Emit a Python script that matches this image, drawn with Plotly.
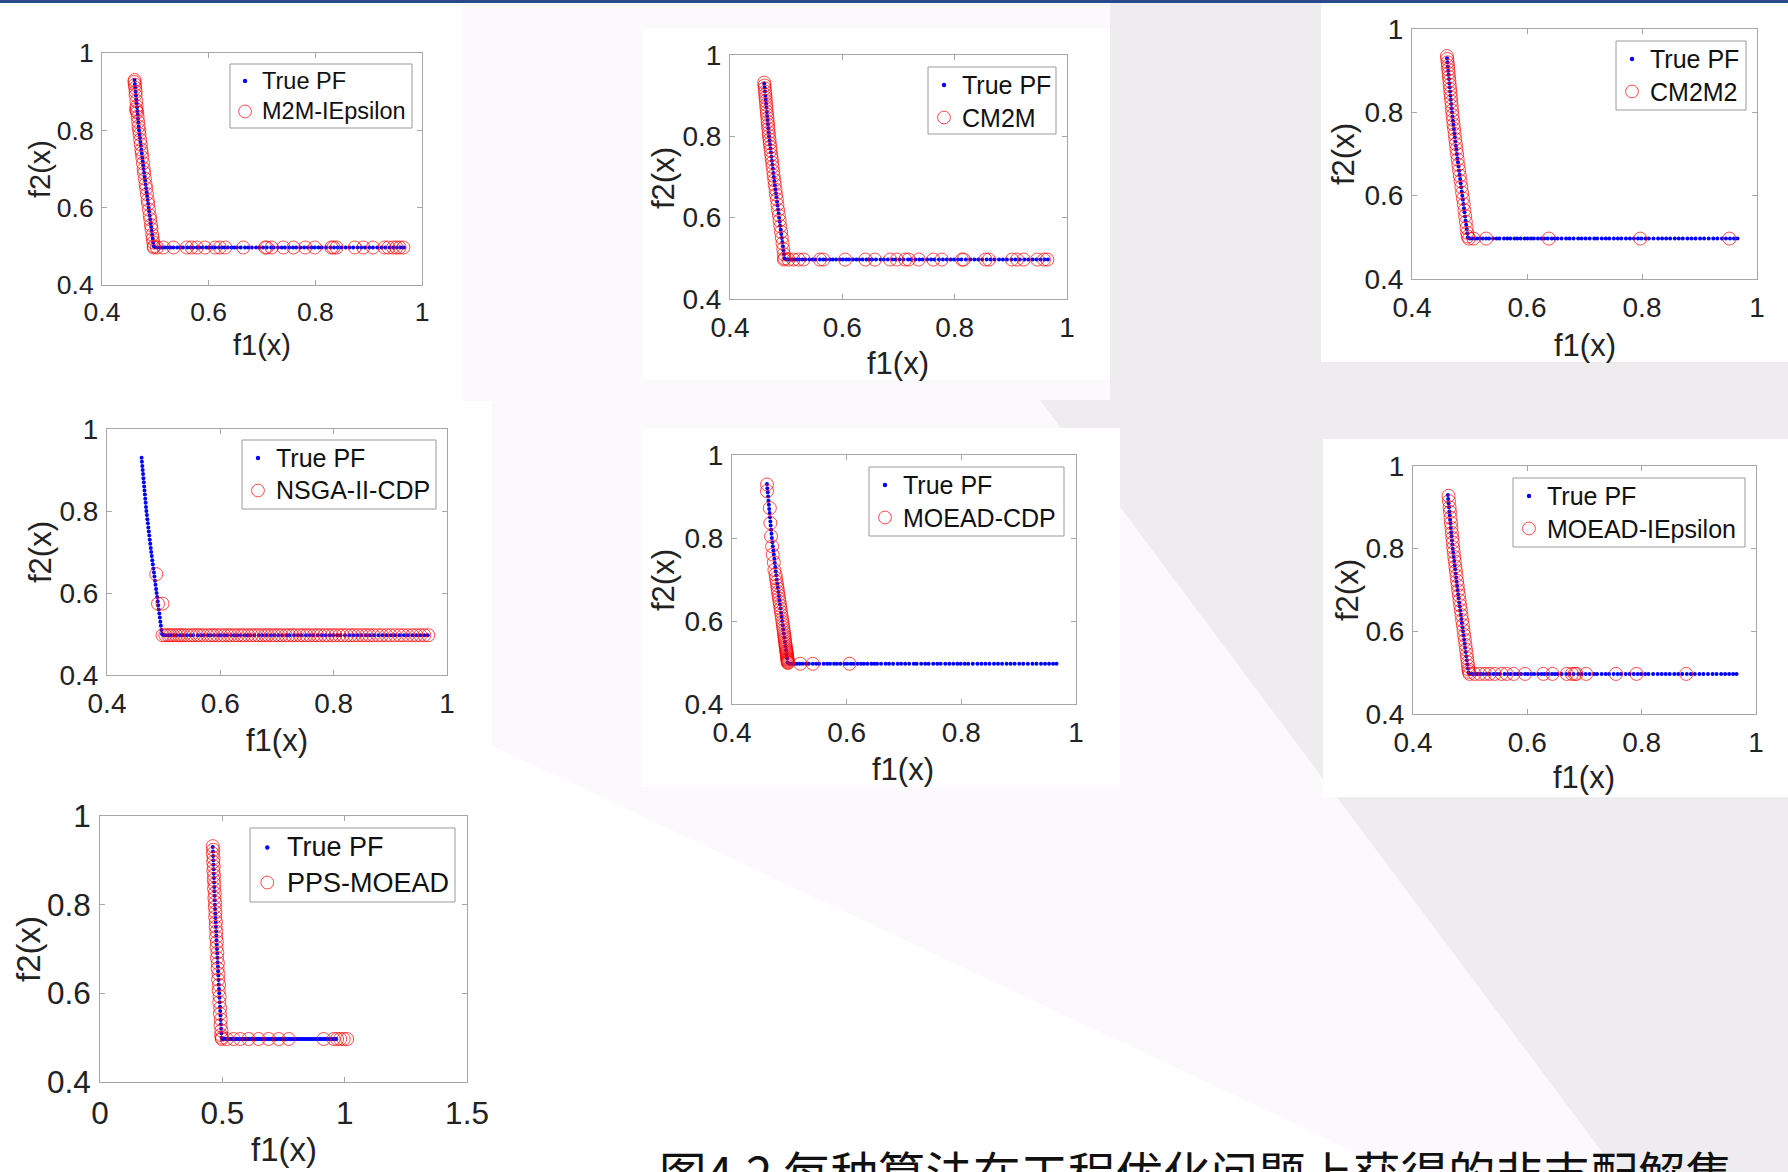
import plotly.graph_objects as go

W, H = 1788, 1172
FONT = "Liberation Sans, Arial, sans-serif"


def px_x(p):
    return p / W


def px_y(p):
    return 1 - p / H


# ---------------- data ----------------
# True Pareto front: steep part + flat part (f2 ~ 0.497)
PF_STEEP_F1 = [0.4610, 0.4616, 0.4623, 0.4630, 0.4636, 0.4643, 0.4649, 0.4656, 0.4662, 0.4669,
               0.4675, 0.4682, 0.4688, 0.4695, 0.4704, 0.4712, 0.4721, 0.4729, 0.4738, 0.4746,
               0.4755, 0.4763, 0.4772, 0.4780, 0.4790, 0.4799, 0.4809, 0.4818, 0.4828, 0.4837,
               0.4847, 0.4856, 0.4866, 0.4875, 0.4885, 0.4894, 0.4904, 0.4913, 0.4923, 0.4932,
               0.4942, 0.4951, 0.4961, 0.4970]
PF_STEEP_F2 = [0.93, 0.92, 0.91, 0.90, 0.89, 0.88, 0.87, 0.86, 0.85, 0.84,
               0.83, 0.82, 0.81, 0.80, 0.79, 0.78, 0.77, 0.76, 0.75, 0.74,
               0.73, 0.72, 0.71, 0.70, 0.69, 0.68, 0.67, 0.66, 0.65, 0.64,
               0.63, 0.62, 0.61, 0.60, 0.59, 0.58, 0.57, 0.56, 0.55, 0.54,
               0.53, 0.52, 0.51, 0.50]
PF_FLAT_F1 = [0.500, 0.504, 0.509, 0.513, 0.518, 0.523, 0.529, 0.534, 0.541, 0.547, 0.552, 0.560,
              0.566, 0.571, 0.578, 0.583, 0.589, 0.596, 0.601, 0.607, 0.612, 0.619, 0.625, 0.630,
              0.636, 0.643, 0.648, 0.653, 0.660, 0.668, 0.674, 0.681, 0.689, 0.695, 0.702, 0.709,
              0.717, 0.722, 0.730, 0.737, 0.743, 0.751, 0.758, 0.764, 0.772, 0.779, 0.786, 0.793,
              0.799, 0.806, 0.812, 0.820, 0.828, 0.835, 0.842, 0.849, 0.857, 0.864, 0.871, 0.879,
              0.886, 0.893, 0.901, 0.908, 0.916, 0.924, 0.931, 0.939, 0.946, 0.953, 0.960, 0.966]
FLAT_F2 = 0.497

PF_NAME = "True PF"
ALGORITHMS = ["M2M-IEpsilon", "CM2M", "CM2M2", "NSGA-II-CDP",
              "MOEAD-CDP", "MOEAD-IEpsilon", "PPS-MOEAD"]

# M2M-IEpsilon
M2M_STEEP_F1 = [0.4612, 0.4608, 0.4618, 0.4622, 0.4631, 0.4629, 0.4645, 0.4650, 0.4641, 0.4648,
                0.4660, 0.4668, 0.4679, 0.4686, 0.4697, 0.4703, 0.4716, 0.4726, 0.4738, 0.4745,
                0.4756, 0.4768, 0.4781, 0.4790, 0.4804, 0.4818, 0.4829, 0.4842, 0.4856, 0.4866,
                0.4880, 0.4894, 0.4905, 0.4918, 0.4928, 0.4943, 0.4952, 0.4962, 0.4972]
M2M_STEEP_F2 = [0.930, 0.925, 0.918, 0.910, 0.900, 0.891, 0.876, 0.862, 0.855, 0.850,
                0.846, 0.835, 0.822, 0.810, 0.800, 0.790, 0.776, 0.764, 0.750, 0.741,
                0.730, 0.715, 0.700, 0.690, 0.675, 0.660, 0.650, 0.635, 0.620, 0.610,
                0.595, 0.580, 0.570, 0.555, 0.545, 0.530, 0.520, 0.510, 0.500]
M2M_FLAT_F1 = [0.497, 0.503, 0.515, 0.534, 0.559, 0.568, 0.578, 0.593, 0.612, 0.621, 0.631,
               0.665, 0.706, 0.709, 0.718, 0.740, 0.759, 0.781, 0.799, 0.830, 0.834, 0.840,
               0.874, 0.890, 0.908, 0.930, 0.937, 0.946, 0.952, 0.958, 0.965]

# CM2M
CM2M_STEEP_F1 = [0.4609, 0.4614, 0.4617, 0.4625, 0.4628, 0.4634, 0.4637, 0.4645, 0.4648, 0.4656,
                 0.4659, 0.4667, 0.4671, 0.4679, 0.4682, 0.4690, 0.4693, 0.4704, 0.4708, 0.4718,
                 0.4722, 0.4734, 0.4742, 0.4752, 0.4758, 0.4770, 0.4776, 0.4790, 0.4797, 0.4811,
                 0.4820, 0.4834, 0.4844, 0.4857, 0.4870, 0.4884, 0.4896, 0.4909, 0.4922, 0.4936,
                 0.4949, 0.4960, 0.4970]
CM2M_STEEP_F2 = [0.932, 0.925, 0.918, 0.910, 0.902, 0.895, 0.887, 0.878, 0.870, 0.861,
                 0.853, 0.845, 0.836, 0.828, 0.819, 0.810, 0.801, 0.792, 0.783, 0.774,
                 0.765, 0.755, 0.745, 0.735, 0.725, 0.714, 0.703, 0.692, 0.681, 0.669,
                 0.657, 0.645, 0.632, 0.619, 0.606, 0.593, 0.579, 0.565, 0.551, 0.537,
                 0.523, 0.510, 0.500]
CM2M_FLAT_F1 = [0.496, 0.504, 0.513, 0.522, 0.531, 0.560, 0.566, 0.605, 0.641, 0.658, 0.685,
                0.697, 0.712, 0.718, 0.736, 0.762, 0.777, 0.813, 0.816, 0.855, 0.861, 0.902,
                0.911, 0.923, 0.947, 0.959, 0.965]

# CM2M2
CM2M2_STEEP_F1 = [0.4607, 0.4613, 0.4619, 0.4626, 0.4631, 0.4637, 0.4643, 0.4650, 0.4656, 0.4663,
                  0.4669, 0.4676, 0.4683, 0.4690, 0.4697, 0.4705, 0.4714, 0.4723, 0.4732, 0.4742,
                  0.4752, 0.4763, 0.4773, 0.4784, 0.4795, 0.4807, 0.4819, 0.4832, 0.4845, 0.4858,
                  0.4872, 0.4886, 0.4900, 0.4912, 0.4925, 0.4937, 0.4949, 0.4960, 0.4970]
CM2M2_STEEP_F2 = [0.935, 0.928, 0.920, 0.912, 0.903, 0.894, 0.885, 0.876, 0.866, 0.856,
                  0.846, 0.836, 0.826, 0.815, 0.804, 0.793, 0.782, 0.771, 0.760, 0.748,
                  0.736, 0.724, 0.712, 0.700, 0.687, 0.674, 0.661, 0.648, 0.635, 0.621,
                  0.607, 0.593, 0.579, 0.565, 0.551, 0.537, 0.523, 0.511, 0.502]
CM2M2_FLAT_F1 = [0.499, 0.507, 0.529, 0.638, 0.797, 0.952]

# NSGA-II-CDP
NSGA_STEEP_F1 = [0.487, 0.490, 0.498]
NSGA_STEEP_F2 = [0.646, 0.574, 0.574]
NSGA_FLAT_F1 = [0.498, 0.503, 0.508, 0.512, 0.517, 0.522, 0.527, 0.531, 0.536, 0.542, 0.548, 0.553,
                0.559, 0.564, 0.570, 0.577, 0.583, 0.588, 0.594, 0.601, 0.607, 0.613, 0.618, 0.625,
                0.631, 0.637, 0.642, 0.649, 0.655, 0.661, 0.667, 0.673, 0.679, 0.684, 0.690, 0.696,
                0.702, 0.708, 0.715, 0.721, 0.727, 0.733, 0.740, 0.746, 0.752, 0.758, 0.765, 0.771,
                0.777, 0.784, 0.790, 0.797, 0.803, 0.810, 0.816, 0.823, 0.830, 0.836, 0.843, 0.850,
                0.857, 0.863, 0.870, 0.878, 0.885, 0.893, 0.900, 0.908, 0.916, 0.923, 0.931, 0.939,
                0.946, 0.953, 0.960, 0.967]

# MOEAD-CDP
MOEADCDP_STEEP_F1 = [0.461, 0.461, 0.466, 0.467, 0.468, 0.470, 0.471, 0.473, 0.474,
                     0.4760, 0.4768, 0.4778, 0.4787, 0.4795, 0.4803, 0.4812, 0.4820, 0.4829, 0.4838,
                     0.4846, 0.4855, 0.4863, 0.4872, 0.4880, 0.4887, 0.4894, 0.4900, 0.4906, 0.4911,
                     0.4916, 0.4921, 0.4925, 0.4930, 0.4934, 0.4938, 0.4942, 0.4946, 0.4949, 0.4952,
                     0.4955, 0.4958, 0.4961, 0.4963, 0.4965, 0.4967, 0.4969, 0.4971, 0.4972, 0.4973,
                     0.4975]
MOEADCDP_STEEP_F2 = [0.929, 0.913, 0.872, 0.836, 0.804, 0.780, 0.760, 0.741, 0.723,
                     0.712, 0.703, 0.694, 0.686, 0.678, 0.670, 0.662, 0.654, 0.646, 0.638,
                     0.630, 0.622, 0.614, 0.606, 0.598, 0.591, 0.584, 0.578, 0.572, 0.566,
                     0.561, 0.556, 0.551, 0.546, 0.542, 0.538, 0.534, 0.530, 0.527, 0.524,
                     0.521, 0.518, 0.515, 0.512, 0.510, 0.508, 0.506, 0.504, 0.502, 0.500,
                     0.499]
MOEADCDP_FLAT_F1 = [0.519, 0.541, 0.605]

# MOEAD-IEpsilon
MOEADIE_STEEP_F1 = [0.4621, 0.4629, 0.4640, 0.4647, 0.4656, 0.4664, 0.4672, 0.4679, 0.4688, 0.4695,
                    0.4703, 0.4712, 0.4722, 0.4731, 0.4741, 0.4750, 0.4761, 0.4771, 0.4781, 0.4791,
                    0.4803, 0.4814, 0.4826, 0.4837, 0.4849, 0.4860, 0.4872, 0.4884, 0.4896, 0.4907,
                    0.4918, 0.4928, 0.4938, 0.4947, 0.4956, 0.4964, 0.4970, 0.4975]
MOEADIE_STEEP_F2 = [0.928, 0.915, 0.900, 0.889, 0.875, 0.862, 0.850, 0.838, 0.826, 0.815,
                    0.803, 0.792, 0.780, 0.769, 0.757, 0.746, 0.734, 0.722, 0.711, 0.699,
                    0.687, 0.675, 0.663, 0.651, 0.639, 0.627, 0.615, 0.603, 0.591, 0.579,
                    0.567, 0.556, 0.545, 0.535, 0.525, 0.516, 0.508, 0.502]
MOEADIE_FLAT_F1 = [0.499, 0.508, 0.517, 0.526, 0.534, 0.543, 0.555, 0.564, 0.576, 0.596, 0.628,
                   0.644, 0.669, 0.678, 0.683, 0.686, 0.703, 0.755, 0.791, 0.878]

# PPS-MOEAD
PPS_STEEP_F1 = [0.4608, 0.4630, 0.4612, 0.4642, 0.4626, 0.4650, 0.4635, 0.4662, 0.4648, 0.4676,
                0.4660, 0.4690, 0.4676, 0.4702, 0.4692, 0.4720, 0.4708, 0.4738, 0.4726, 0.4756,
                0.4744, 0.4776, 0.4762, 0.4798, 0.4783, 0.4820, 0.4806, 0.4843, 0.4829, 0.4866,
                0.4852, 0.4890, 0.4876, 0.4914, 0.4900, 0.4938, 0.4925, 0.4962, 0.4950, 0.4975]
PPS_STEEP_F2 = [0.932, 0.924, 0.915, 0.905, 0.896, 0.886, 0.876, 0.866, 0.856, 0.846,
                0.836, 0.826, 0.815, 0.805, 0.794, 0.783, 0.772, 0.761, 0.750, 0.739,
                0.727, 0.716, 0.704, 0.692, 0.680, 0.668, 0.656, 0.644, 0.631, 0.619,
                0.606, 0.593, 0.580, 0.567, 0.554, 0.541, 0.528, 0.516, 0.506, 0.500]
PPS_FLAT_F1 = [0.498, 0.518, 0.546, 0.573, 0.607, 0.648, 0.689, 0.730, 0.771, 0.914, 0.955,
               0.969, 0.982, 0.996, 1.010]

ALG_DATA = [
    (M2M_STEEP_F1, M2M_STEEP_F2, M2M_FLAT_F1),
    (CM2M_STEEP_F1, CM2M_STEEP_F2, CM2M_FLAT_F1),
    (CM2M2_STEEP_F1, CM2M2_STEEP_F2, CM2M2_FLAT_F1),
    (NSGA_STEEP_F1, NSGA_STEEP_F2, NSGA_FLAT_F1),
    (MOEADCDP_STEEP_F1, MOEADCDP_STEEP_F2, MOEADCDP_FLAT_F1),
    (MOEADIE_STEEP_F1, MOEADIE_STEEP_F2, MOEADIE_FLAT_F1),
    (PPS_STEEP_F1, PPS_STEEP_F2, PPS_FLAT_F1),
]

X_TICKS_A = [0.4, 0.6, 0.8, 1.0]
X_TICKTEXT_A = ["0.4", "0.6", "0.8", "1"]
X_TICKS_B = [0, 0.5, 1.0, 1.5]
X_TICKTEXT_B = ["0", "0.5", "1", "1.5"]
Y_TICKS = [0.4, 0.6, 0.8, 1.0]
Y_TICKTEXT = ["0.4", "0.6", "0.8", "1"]

CAPTION = "图4.2 每种算法在工程优化问题上获得的非支配解集"

# ---------------- layout spec (pixel geometry) ----------------
# ax: axes box (l, r, t, b); pan: white panel; lb: legend box (l, r, t, b);
# xt / yt: axis-title centres; fs: tick, title, legend font sizes
PANELS = [
    dict(ax=(102, 422, 53, 285), pan=(0, 463, 3, 362), lb=(230, 412, 64, 128), xt=(262, 345), yt=(40, 169),
         fs=(26.5, 29, 23.5), xr=[0.4, 1.0], xt_v=X_TICKS_A, xt_t=X_TICKTEXT_A),
    dict(ax=(730, 1067, 55, 299), pan=(642, 1110, 28, 380), lb=(928, 1056, 67, 134), xt=(898, 364), yt=(663, 178),
         fs=(28, 31, 25), xr=[0.4, 1.0], xt_v=X_TICKS_A, xt_t=X_TICKTEXT_A),
    dict(ax=(1412, 1757, 29, 279), pan=(1321, 1788, 3, 362), lb=(1616, 1746, 41, 110), xt=(1585, 345), yt=(1343, 154),
         fs=(28, 31, 25), xr=[0.4, 1.0], xt_v=X_TICKS_A, xt_t=X_TICKTEXT_A),
    dict(ax=(107, 447, 429, 675), pan=(0, 492, 401, 764), lb=(242, 436, 440, 509), xt=(277, 740), yt=(40, 552),
         fs=(28, 31, 25), xr=[0.4, 1.0], xt_v=X_TICKS_A, xt_t=X_TICKTEXT_A),
    dict(ax=(732, 1076, 455, 704), pan=(641, 1120, 428, 787), lb=(869, 1064, 467, 536), xt=(903, 769), yt=(663, 580),
         fs=(28, 31, 25), xr=[0.4, 1.0], xt_v=X_TICKS_A, xt_t=X_TICKTEXT_A),
    dict(ax=(1413, 1756, 466, 714), pan=(1323, 1788, 439, 797), lb=(1513, 1745, 478, 547), xt=(1584, 777), yt=(1347, 590),
         fs=(28, 31, 25), xr=[0.4, 1.0], xt_v=X_TICKS_A, xt_t=X_TICKTEXT_A),
    dict(ax=(100, 467, 816, 1082), pan=(0, 500, 790, 1172), lb=(250, 455, 828, 902), xt=(284, 1149), yt=(28, 949),
         fs=(31.5, 33, 27), xr=[0.0, 1.5], xt_v=X_TICKS_B, xt_t=X_TICKTEXT_B),
]

AXIS_COLOR = "#a6a6a6"
TEXT_COLOR = "#222222"
PF_COLOR = "#0000ff"
ALG_COLOR = "rgba(255,0,0,0.7)"

fig = go.Figure()
layout = dict(
    width=W, height=H, autosize=False,
    margin=dict(l=0, r=0, t=0, b=0, pad=0, autoexpand=False),
    paper_bgcolor="white", plot_bgcolor="white",
    showlegend=False,
    shapes=[], annotations=[],
)


def poly(points):
    return "M " + " L ".join(f"{px_x(a):.5f},{px_y(b):.5f}" for a, b in points) + " Z"


# slide background decoration
layout["shapes"].append(dict(type="path", xref="paper", yref="paper", layer="below",
                             path=poly([(463, 3), (1788, 3), (1788, 1172), (1397, 1172), (480, 740), (463, 740)]),
                             fillcolor="#fcf9fc", line=dict(width=0)))
layout["shapes"].append(dict(type="path", xref="paper", yref="paper", layer="below",
                             path=poly([(1110, 3), (1788, 3), (1788, 1172), (1617, 1172), (1040, 400), (1110, 400)]),
                             fillcolor="#efecf0", line=dict(width=0)))

for i, (name, spec, data) in enumerate(zip(ALGORITHMS, PANELS, ALG_DATA)):
    k = i + 1
    xa = "xaxis" if k == 1 else f"xaxis{k}"
    ya = "yaxis" if k == 1 else f"yaxis{k}"
    xref = "x" if k == 1 else f"x{k}"
    yref = "y" if k == 1 else f"y{k}"
    l, r, t, b = spec["ax"]
    tfs, ttl, lfs = spec["fs"]

    pl, pr, pt, pb = spec["pan"]
    layout["shapes"].append(dict(type="rect", xref="paper", yref="paper", layer="below",
                                 x0=px_x(pl), x1=px_x(pr), y0=px_y(pb), y1=px_y(pt),
                                 fillcolor="white", line=dict(width=0)))

    common = dict(showline=True, linecolor=AXIS_COLOR, linewidth=1, mirror="ticks",
                  ticks="inside", ticklen=5, tickcolor=AXIS_COLOR, tickwidth=1,
                  showgrid=False, zeroline=False, fixedrange=True, automargin=False,
                  tickfont=dict(family=FONT, size=tfs, color=TEXT_COLOR))
    layout[xa] = dict(common, domain=[px_x(l), px_x(r)], range=spec["xr"], anchor=yref,
                      tickmode="array", tickvals=spec["xt_v"], ticktext=spec["xt_t"],
                      ticklabelstandoff=3)
    layout[ya] = dict(common, domain=[px_y(b), px_y(t)], range=[0.4, 1.0], anchor=xref,
                      tickmode="array", tickvals=Y_TICKS, ticktext=Y_TICKTEXT,
                      ticklabelstandoff=2)

    pf_x = PF_STEEP_F1 + PF_FLAT_F1
    pf_y = PF_STEEP_F2 + [FLAT_F2] * len(PF_FLAT_F1)
    fig.add_trace(go.Scatter(x=pf_x, y=pf_y, mode="markers", name=PF_NAME,
                             xaxis=xref, yaxis=yref, showlegend=False,
                             marker=dict(symbol="circle", size=4, color=PF_COLOR, line=dict(width=0))))

    sf1, sf2, ff1 = data
    al_x = sf1 + ff1
    al_y = sf2 + [FLAT_F2] * len(ff1)
    fig.add_trace(go.Scatter(x=al_x, y=al_y, mode="markers", name=name,
                             xaxis=xref, yaxis=yref, showlegend=False,
                             marker=dict(symbol="circle-open", size=13,
                                         color=ALG_COLOR, line=dict(width=1))))

    # axis titles
    xc, yc = spec["xt"]
    layout["annotations"].append(dict(text="f1(x)", xref="paper", yref="paper",
                                      x=px_x(xc), y=px_y(yc), xanchor="center", yanchor="middle",
                                      showarrow=False, font=dict(family=FONT, size=ttl, color=TEXT_COLOR)))
    xc, yc = spec["yt"]
    layout["annotations"].append(dict(text="f2(x)", xref="paper", yref="paper", textangle=-90,
                                      x=px_x(xc), y=px_y(yc), xanchor="center", yanchor="middle",
                                      showarrow=False, font=dict(family=FONT, size=ttl, color=TEXT_COLOR)))

    # legend box (MATLAB style, tight)
    bl, br, bt, bb = spec["lb"]
    layout["shapes"].append(dict(type="rect", xref="paper", yref="paper", layer="above",
                                 x0=px_x(bl), x1=px_x(br), y0=px_y(bb), y1=px_y(bt),
                                 fillcolor="white", line=dict(color="#9a9a9a", width=1)))
    sx = bl + 0.64 * lfs
    tx = bl + 1.28 * lfs
    r1 = bt + 0.72 * lfs
    r2 = r1 + 1.3 * lfs
    rd = 2.2
    layout["shapes"].append(dict(type="circle", xref="paper", yref="paper", layer="above",
                                 x0=px_x(sx - rd), x1=px_x(sx + rd), y0=px_y(r1 + rd), y1=px_y(r1 - rd),
                                 fillcolor=PF_COLOR, line=dict(width=0)))
    rc = 6.4
    layout["shapes"].append(dict(type="circle", xref="paper", yref="paper", layer="above",
                                 x0=px_x(sx - rc), x1=px_x(sx + rc), y0=px_y(r2 + rc), y1=px_y(r2 - rc),
                                 fillcolor="rgba(0,0,0,0)", line=dict(color=ALG_COLOR, width=1)))
    for txt, ry in ((PF_NAME, r1), (name, r2)):
        layout["annotations"].append(dict(text=txt, xref="paper", yref="paper",
                                          x=px_x(tx), y=px_y(ry), xanchor="left", yanchor="middle",
                                          showarrow=False,
                                          font=dict(family=FONT, size=lfs, color="#111111")))

# caption (cut by the bottom edge, as in the slide)
layout["annotations"].append(dict(text=CAPTION, xref="paper", yref="paper",
                                  x=px_x(657), y=px_y(1135), xanchor="left", yanchor="top",
                                  showarrow=False,
                                  font=dict(family="Noto Sans CJK SC", size=47.5, color="#111111")))

# top blue bar of the slide
layout["shapes"].append(dict(type="rect", xref="paper", yref="paper", layer="above",
                             x0=0, x1=1, y0=px_y(3), y1=1,
                             fillcolor="#2a4a8c", line=dict(width=0)))

fig.update_layout(**layout)
fig.write_html("out.html", include_plotlyjs=True, config={"displayModeBar": False},
               post_script="document.body.style.margin='0';document.body.style.overflow='hidden';")
